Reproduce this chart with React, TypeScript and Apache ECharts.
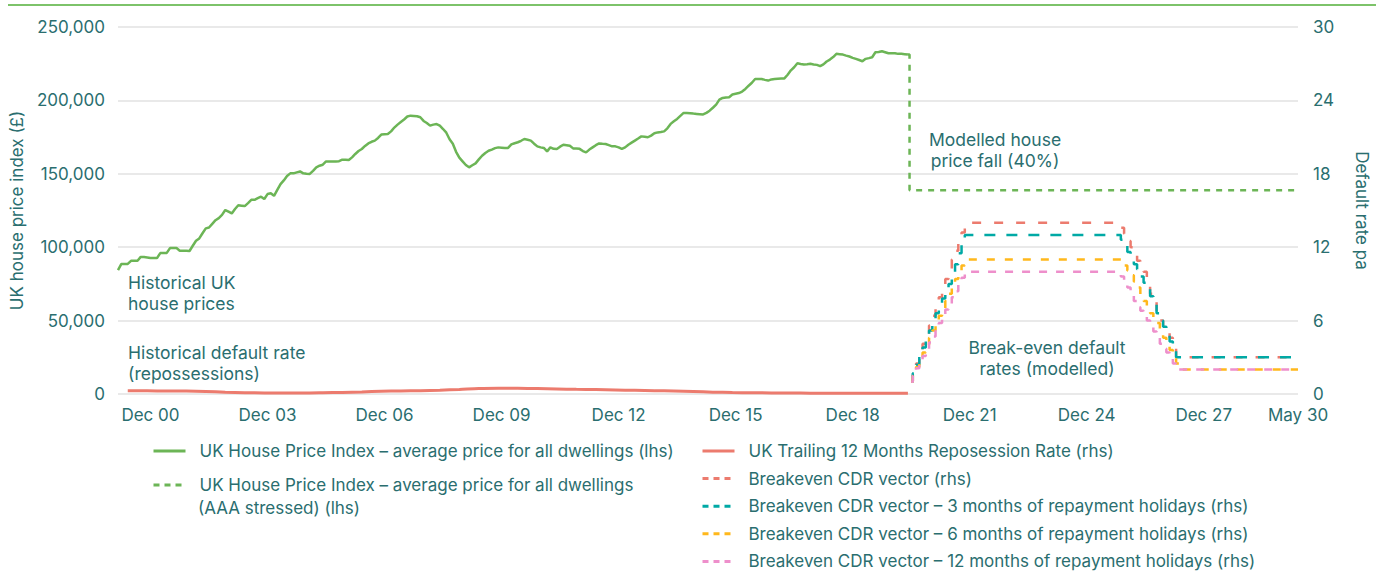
import React, { useEffect, useRef } from "react";
import * as echarts from "echarts";

// ---------- categories (monthly, Feb 2000 .. May 2030) ----------
const MON = ["Jan", "Feb", "Mar", "Apr", "May", "Jun", "Jul", "Aug", "Sep", "Oct", "Nov", "Dec"];
const months: string[] = [];
for (let k = 0; k < 364; k++) {
  const t = 1 + k;
  months.push(`${MON[t % 12]} ${String(Math.floor(t / 12)).padStart(2, "0")}`);
}

// ---------- series names ----------
const HPI_NAME = "UK House Price Index – average price for all dwellings (lhs)";
const STRESS_NAME = "UK House Price Index – average price for all dwellings (AAA stressed) (lhs)";
const REPOS_NAME = "UK Trailing 12 Months Reposession Rate (rhs)";
const CDR_NAME = "Breakeven CDR vector (rhs)";
const CDR3_NAME = "Breakeven CDR vector – 3 months of repayment holidays (rhs)";
const CDR6_NAME = "Breakeven CDR vector – 6 months of repayment holidays (rhs)";
const CDR12_NAME = "Breakeven CDR vector – 12 months of repayment holidays (rhs)";

// ---------- UK HPI, £ thousands, monthly from Feb 00 to May 20 ----------
const hpiThousands = [
  84.4, 88.5, 88.5, 88.6, 90.7, 90.7, 90.8, 93.4, 93.3, 93.0, 92.7, 92.6,
  92.6, 96.0, 96.0, 96.1, 99.4, 99.4, 99.4, 97.6, 97.5, 97.5, 97.4, 101.0,
  104.4, 106.0, 109.5, 112.8, 113.4, 115.9, 118.4, 119.8, 122.0, 125.3, 124.2, 123.0,
  126.0, 128.6, 128.3, 128.0, 130.0, 132.3, 132.3, 133.4, 134.4, 132.8, 136.2, 136.7,
  135.0, 139.0, 143.0, 145.5, 148.5, 150.3, 150.3, 151.0, 151.6, 150.3, 150.0, 149.9,
  152.0, 154.4, 155.5, 156.2, 158.4, 158.4, 158.4, 158.4, 158.6, 159.6, 159.5, 159.4,
  161.2, 163.5, 165.5, 166.9, 169.0, 170.7, 171.8, 172.6, 174.4, 176.7, 176.9, 177.1,
  178.9, 181.5, 183.5, 185.3, 187.0, 189.0, 189.6, 189.4, 189.2, 188.5, 186.0, 184.6,
  182.8, 183.5, 183.9, 182.8, 180.5, 178.0, 173.5, 170.5, 165.0, 161.0, 158.5, 156.0,
  154.4, 155.8, 157.1, 159.8, 162.3, 164.2, 165.7, 166.5, 167.5, 168.0, 167.8, 167.6,
  167.6, 170.0, 170.8, 171.5, 172.5, 173.7, 173.2, 172.6, 170.5, 168.7, 168.0, 167.6,
  165.3, 168.0, 167.0, 166.9, 168.5, 169.8, 169.5, 169.1, 167.3, 167.3, 167.0, 165.5,
  164.6, 166.5, 168.0, 169.5, 170.7, 170.4, 170.3, 169.5, 168.7, 168.7, 168.0, 166.9,
  168.0, 169.8, 171.2, 172.6, 174.0, 175.5, 175.2, 174.9, 176.0, 177.6, 178.2, 178.5,
  178.9, 181.0, 184.0, 185.8, 187.4, 189.5, 191.5, 191.4, 191.3, 191.0, 190.8, 190.6,
  190.4, 191.5, 193.0, 195.0, 197.1, 200.5, 201.7, 202.0, 202.2, 204.0, 204.5, 205.0,
  206.0, 207.8, 210.0, 212.0, 214.6, 214.6, 214.6, 214.0, 213.5, 214.3, 214.6, 214.8,
  214.9, 215.0, 217.5, 220.5, 222.6, 225.3, 224.8, 224.4, 224.6, 224.9, 224.5, 224.2,
  223.3, 224.5, 226.5, 227.8, 229.5, 231.7, 231.5, 231.2, 230.5, 229.9, 229.0, 228.3,
  227.5, 226.7, 228.3, 228.8, 229.4, 232.8, 233.0, 233.5, 232.8, 232.1, 232.1, 232.1,
  231.7, 231.7, 231.5, 231.3,
];

// ---------- stressed HPI (40% fall) ----------
const stressMonths = ["May 20", "Jun 20", "May 30"];
const stressValues = [231300, 138800, 138800];

// ---------- repossession rate (% pa) ----------
const reposMonths = [
  "May 00", "Nov 00", "May 01", "Nov 01", "May 02", "Nov 02", "May 03", "Nov 03", "May 04", "Nov 04",
  "May 05", "Nov 05", "May 06", "Nov 06", "May 07", "Nov 07", "May 08", "Nov 08", "May 09", "Nov 09",
  "May 10", "Nov 10", "May 11", "Nov 11", "May 12", "Nov 12", "May 13", "Nov 13", "May 14", "Nov 14",
  "May 15", "Nov 15", "May 16", "Nov 16", "May 17", "Nov 17", "May 18", "Nov 18", "May 19", "Nov 19",
  "May 20",
];
const reposValues = [
  0.27, 0.26, 0.25, 0.24, 0.2, 0.15, 0.11, 0.09, 0.08, 0.08,
  0.1, 0.13, 0.17, 0.22, 0.25, 0.27, 0.31, 0.37, 0.45, 0.47,
  0.46, 0.44, 0.41, 0.38, 0.36, 0.33, 0.3, 0.27, 0.24, 0.2,
  0.15, 0.12, 0.1, 0.09, 0.08, 0.07, 0.07, 0.07, 0.06, 0.06,
  0.06,
];

// ---------- breakeven CDR vectors (% pa) ----------
const cdrMonths = [
  "Jun 20", "Jul 20", "Aug 20", "Sep 20", "Oct 20", "Nov 20", "Dec 20", "Jan 21", "Feb 21",
  "Mar 21", "Apr 21", "May 21", "Jun 21", "Jul 21", "Aug 21", "Sep 21", "Oct 21", "Nov 21",
  "Oct 25",
  "Nov 25", "Dec 25", "Jan 26", "Feb 26", "Mar 26", "Apr 26", "May 26", "Jun 26", "Jul 26",
  "Aug 26", "Sep 26", "Oct 26", "Nov 26", "Dec 26", "Jan 27", "Feb 27", "Mar 27", "Apr 27", "May 27",
  "May 30",
];
const cdrBase = [
  1.0, 1.8, 2.5, 3.3, 4.1, 4.8, 5.6, 6.4, 7.1, 7.9, 8.7, 9.4, 10.2, 11.0, 11.7, 12.5, 13.2, 14.0,
  14.0,
  13.6, 13.1, 12.5, 12.0, 11.4, 10.9, 10.5, 10.0, 9.0, 8.2, 7.5, 6.6, 6.0, 5.6, 5.1, 4.6, 3.9, 3.0, 3.0,
  3.0,
];
const cdr3m = [
  1.0, 1.7, 2.4, 3.1, 3.8, 4.5, 5.2, 5.9, 6.6, 7.2, 7.8, 8.4, 9.0, 9.8, 10.6, 11.5, 12.3, 13.0,
  13.0,
  12.6, 12.1, 11.6, 11.0, 10.6, 10.2, 9.6, 9.1, 8.6, 8.0, 7.4, 6.6, 6.0, 5.5, 5.0, 4.3, 3.5, 3.0, 3.0,
  3.0,
];
const cdr6m = [
  1.0, 1.6, 2.2, 2.8, 3.4, 4.0, 4.6, 5.2, 5.8, 6.4, 7.0, 7.6, 8.2, 8.8, 9.4, 10.0, 10.5, 11.0,
  11.0,
  10.9, 10.5, 10.1, 9.7, 9.2, 8.7, 8.1, 7.6, 7.1, 6.6, 6.2, 5.8, 5.1, 4.6, 4.2, 3.6, 3.1, 2.5, 2.0,
  2.0,
];
const cdr12m = [
  1.0, 1.5, 2.1, 2.6, 3.1, 3.7, 4.2, 4.7, 5.3, 5.8, 6.3, 6.9, 7.4, 7.9, 8.4, 9.0, 9.5, 10.0,
  10.0,
  9.6, 9.2, 8.7, 8.1, 7.6, 7.1, 6.8, 6.4, 6.0, 5.6, 5.1, 4.6, 4.1, 3.7, 3.4, 3.0, 2.5, 2.0, 2.0,
  2.0,
];

// ---------- styling ----------
const FONT = "Inter";
const TEXT = "#2A6E6F";
const GREEN = "#6CB556";
const SALMON = "#EC7B6E";
const TEAL = "#00A9A5";
const YELLOW = "#FFB81C";
const PINK = "#EE8FCB";

const pairs = (xs: string[], ys: number[]) => xs.map((x, i) => [x, ys[i]]);

export default function App() {
  const ref = useRef<HTMLDivElement>(null);

  useEffect(() => {
    document.body.style.margin = "0";
    if (!ref.current) return;
    const chart = echarts.init(ref.current, undefined, { renderer: "svg" });

    const cdrSeries = (name: string, color: string, vals: number[], dash: number[]) => ({
      name,
      type: "line",
      yAxisIndex: 1,
      step: "middle",
      symbol: "none",
      data: pairs(cdrMonths, vals),
      lineStyle: { color, width: 2.5, type: dash },
      itemStyle: { color },
    });

    const legendText = {
      color: TEXT,
      fontSize: 17,
      fontFamily: FONT,
      lineHeight: 20,
      padding: [0, 0, 0, 9],
    };

    const legendCommon = {
      orient: "vertical",
      top: 441,
      height: 140,
      padding: 0,
      itemWidth: 32,
      itemHeight: 14,
      itemStyle: { opacity: 0, borderWidth: 0 },
      lineStyle: { width: 3 },
      textStyle: legendText,
    };
    const dashedItem = (name: string) => ({ name, lineStyle: { type: [6, 5], width: 3 } });

    const annot = (text: string, x: number, y: number, align: string) => ({
      type: "text",
      x,
      y,
      style: {
        text,
        fill: TEXT,
        font: `17.5px ${FONT}`,
        lineHeight: 21,
        textAlign: align,
        textVerticalAlign: "middle",
      },
    });

    chart.setOption({
      animation: false,
      textStyle: { fontFamily: FONT },
      grid: { left: 118, right: 83, top: 27, bottom: 177, containLabel: false },
      xAxis: {
        type: "category",
        data: months,
        boundaryGap: false,
        axisLine: { show: false },
        axisTick: { show: false },
        axisLabel: {
          color: TEXT,
          fontSize: 17,
          fontFamily: FONT,
          margin: 12,
          interval: (idx: number, val: string) =>
            (val.startsWith("Dec") && parseInt(val.slice(4), 10) % 3 === 0) || idx === months.length - 1,
        },
        splitLine: { show: false },
      },
      yAxis: [
        {
          type: "value",
          min: 0,
          max: 250000,
          interval: 50000,
          name: "UK house price index (£)",
          nameLocation: "middle",
          nameGap: 93,
          nameTextStyle: { color: TEXT, fontSize: 17, fontFamily: FONT },
          axisLabel: {
            color: TEXT,
            fontSize: 17,
            fontFamily: FONT,
            margin: 13,
            formatter: (v: number) => v.toLocaleString("en-GB"),
          },
          axisLine: { show: false },
          axisTick: { show: false },
          splitLine: { lineStyle: { color: "#E2E2E2", width: 1.5 } },
        },
        {
          type: "value",
          min: 0,
          max: 30,
          interval: 6,
          name: "Default rate pa",
          nameLocation: "middle",
          nameRotate: -90,
          nameGap: 55,
          nameTextStyle: { color: TEXT, fontSize: 17, fontFamily: FONT },
          axisLabel: { color: TEXT, fontSize: 17, fontFamily: FONT, margin: 15 },
          axisLine: { show: false },
          axisTick: { show: false },
          splitLine: { show: false },
        },
      ],
      legend: [
        {
          ...legendCommon,
          left: 152,
          itemGap: 14,
          data: [HPI_NAME, dashedItem(STRESS_NAME)],
          formatter: (n: string) =>
            n === STRESS_NAME ? "UK House Price Index – average price for all dwellings" : n,
        },
        {
          ...legendCommon,
          left: 701,
          itemGap: 7.6,
          data: [
            REPOS_NAME,
            dashedItem(CDR_NAME),
            dashedItem(CDR3_NAME),
            dashedItem(CDR6_NAME),
            dashedItem(CDR12_NAME),
          ],
        },
      ],
      series: [
        {
          name: HPI_NAME,
          type: "line",
          yAxisIndex: 0,
          symbol: "none",
          data: hpiThousands.map((v) => v * 1000),
          lineStyle: { color: GREEN, width: 2.5 },
          itemStyle: { color: GREEN },
          z: 3,
        },
        {
          name: STRESS_NAME,
          type: "line",
          yAxisIndex: 0,
          symbol: "none",
          step: "middle",
          data: pairs(stressMonths, stressValues),
          lineStyle: { color: GREEN, width: 2.5, type: [6, 6] },
          itemStyle: { color: GREEN },
        },
        {
          name: REPOS_NAME,
          type: "line",
          yAxisIndex: 1,
          symbol: "none",
          smooth: 0.3,
          data: pairs(reposMonths, reposValues),
          lineStyle: { color: SALMON, width: 3 },
          itemStyle: { color: SALMON },
        },
        cdrSeries(CDR_NAME, SALMON, cdrBase, [9, 13]),
        cdrSeries(CDR3_NAME, TEAL, cdr3m, [11, 11]),
        cdrSeries(CDR6_NAME, YELLOW, cdr6m, [8, 10]),
        cdrSeries(CDR12_NAME, PINK, cdr12m, [8, 9]),
      ],
      graphic: [
        {
          type: "line",
          shape: { x1: 8, y1: 5, x2: 1376, y2: 5 },
          style: { stroke: "#7DC36A", lineWidth: 2 },
        },
        annot("Historical UK\nhouse prices", 128, 292.5, "left"),
        annot("Historical default rate\n(repossessions)", 128, 362.5, "left"),
        annot("Modelled house\nprice fall (40%)", 995, 149.5, "center"),
        annot("Break-even default\nrates (modelled)", 1047, 357.5, "center"),
        {
          type: "text",
          x: 198,
          y: 508,
          style: {
            text: "(AAA stressed) (lhs)",
            fill: TEXT,
            font: `17px ${FONT}`,
            textAlign: "left",
            textVerticalAlign: "middle",
          },
        },
      ],
    });

    return () => chart.dispose();
  }, []);

  return <div ref={ref} style={{ width: 1381, height: 571 }} />;
}
